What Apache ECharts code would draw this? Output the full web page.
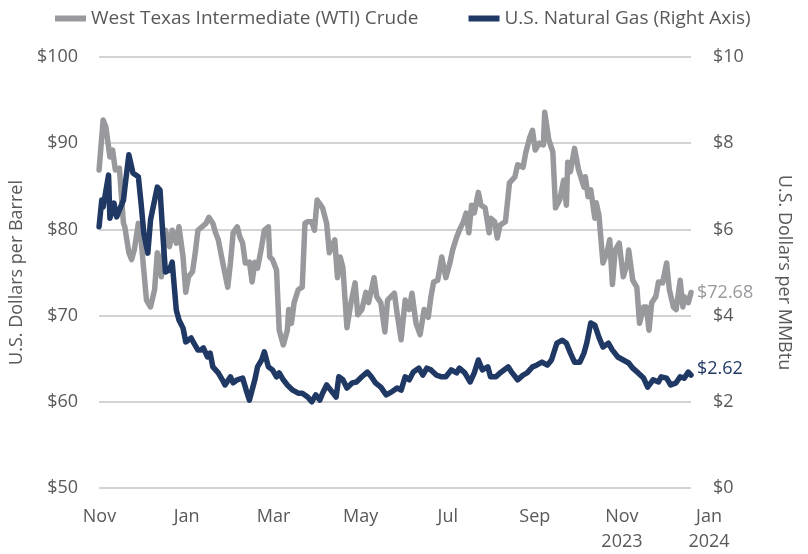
<!DOCTYPE html>
<html>
<head>
<meta charset="utf-8">
<script src="https://cdn.jsdelivr.net/npm/echarts@6/dist/echarts.min.js"></script>
<style>
  html, body { margin: 0; background: #fff; }
  #chart { width: 808px; height: 554px; }
</style>
</head>
<body>
<div id="chart"></div>
<script>
// x values are days counted from 1 Nov 2022
const wtiDays = [0,3,5,8,10,12,15,18,19,22,24,26,29,31,35,38,41,43,46,49,52,54,57,59,62,64,66,69,71,73,76,79,81,84,86,88,92,95,97,99,102,104,106,108,111,113,115,117,120,122,125,126,128,131,133,136,139,140,142,144,147,150,152,154,157,159,161,165,168,170,174,176,178,180,183,186,189,191,194,197,199,203,205,208,211,213,218,220,223,226,229,231,234,237,240,243,245,247,250,253,256,259,261,264,266,269,271,273,275,277,280,282,285,288,289,292,294,296,300,303,307,309,313,315,318,320,322,325,328,329,332,335,337,340,343,345,346,348,351,354,358,359,361,363,366,367,369,372,375,377,379,381,384,387,390,391,394,397,399,402,404,406,408,411,413,416,419,421,424,426,429,431,432,435,437];
const wtiPrice = [86.9,92.7,91.9,88.4,89.2,86.9,87.1,80.7,80.3,77.3,76.5,77.6,80.7,78.8,71.8,71.0,73.0,77.3,74.5,79.9,78.0,79.9,78.4,80.3,76.8,72.7,74.5,75.1,77.3,79.9,80.3,80.7,81.4,80.7,79.6,78.8,75.6,73.3,76.1,79.6,80.3,79.1,78.4,76.1,76.2,73.9,76.2,75.5,78.0,79.9,80.3,76.8,76.5,75.3,68.3,66.6,68.3,70.7,69.1,71.5,73.0,73.3,80.7,80.9,80.9,79.9,83.4,82.5,80.7,77.3,78.8,74.4,76.8,75.6,68.6,71.5,73.8,70.1,70.7,72.7,71.5,74.4,72.2,71.5,68.1,71.8,72.6,70.3,67.2,71.8,70.7,72.6,69.1,67.8,70.7,69.8,72.2,73.9,74.1,76.8,74.4,76.1,77.6,79.1,79.9,80.9,81.9,79.6,82.8,81.9,84.3,82.8,82.5,79.6,81.3,80.9,79.0,80.5,80.9,85.4,86.1,87.5,87.2,88.9,90.7,91.5,89.2,90.0,89.8,93.6,90.4,89.0,82.5,83.4,85.7,82.8,87.8,86.7,89.4,86.9,84.9,86.1,83.8,84.6,81.3,83.1,81.7,76.1,77.3,78.8,73.6,77.6,78.4,74.5,76.1,77.6,74.1,73.3,69.1,71.0,71.0,68.3,71.5,72.2,73.9,73.8,76.1,73.0,71.0,70.7,74.1,71.0,72.2,71.5,72.68];

const gasDays = [0,2,3,7,8,11,13,15,18,20,22,25,29,31,33,36,38,41,43,45,47,49,52,54,57,59,62,64,68,70,73,75,77,80,82,84,88,91,93,97,99,102,106,109,111,115,117,120,122,125,128,131,133,136,139,143,147,150,154,157,160,163,165,168,171,175,177,180,183,187,190,194,198,201,204,208,212,216,220,223,226,229,232,236,239,242,245,249,253,256,260,264,266,270,274,277,280,283,287,289,293,296,302,305,309,313,316,320,323,327,331,334,338,342,345,348,351,355,358,360,363,366,369,372,376,379,383,387,391,394,398,402,405,409,413,415,419,422,426,429,432,435,437];
const gasPrice = [6.06,6.68,6.52,7.26,6.26,6.61,6.29,6.45,6.68,7.22,7.73,7.31,7.22,6.61,5.92,5.45,6.22,6.68,6.98,6.91,5.92,5.01,5.06,5.24,4.13,3.90,3.71,3.39,3.48,3.36,3.20,3.20,3.25,3.04,3.13,2.81,2.67,2.51,2.39,2.58,2.44,2.51,2.55,2.23,2.04,2.51,2.81,2.97,3.16,2.81,2.74,2.58,2.67,2.51,2.39,2.27,2.20,2.20,2.11,2.00,2.16,2.04,2.20,2.39,2.27,2.11,2.58,2.51,2.32,2.44,2.46,2.58,2.69,2.58,2.44,2.34,2.16,2.23,2.32,2.27,2.58,2.51,2.69,2.78,2.62,2.78,2.74,2.62,2.58,2.58,2.74,2.67,2.78,2.67,2.46,2.67,2.97,2.74,2.81,2.58,2.58,2.67,2.81,2.67,2.51,2.62,2.67,2.81,2.85,2.92,2.85,2.97,3.36,3.43,3.36,3.13,2.92,2.92,3.13,3.36,3.83,3.78,3.50,3.27,3.36,3.20,3.04,2.97,2.90,2.78,2.67,2.55,2.34,2.51,2.46,2.58,2.55,2.39,2.44,2.58,2.55,2.69,2.62];

const monthLabels = ['Nov', 'Jan', 'Mar', 'May', 'Jul', 'Sep', 'Nov\n2023', 'Jan\n2024'];
const seriesNames = ['West Texas Intermediate (WTI) Crude', 'U.S. Natural Gas (Right Axis)'];

const GRAY = '#98999d';
const NAVY = '#1f3864';
const TEXT = '#595959';
const FONT = 'Open Sans';

const chart = echarts.init(document.getElementById('chart'), null, { renderer: 'canvas' });

const pairs = (xs, ys) => xs.map((d, i) => [d, ys[i]]);

chart.setOption({
  animation: false,
  backgroundColor: '#fff',
  textStyle: { fontFamily: FONT },
  legend: {
    top: 4,
    left: 50,
    itemGap: 50,
    itemWidth: 31,
    itemHeight: 6,
    icon: 'rect',
    textStyle: { fontSize: 19, color: TEXT, fontFamily: FONT },
    data: seriesNames
  },
  grid: [
    { left: 92, right: 117, top: 57, bottom: 66 },
    // label strip for the month ticks, evenly spaced like the source axis
    { left: 99.5, right: 99, top: 57, bottom: 66 }
  ],
  xAxis: [
    {
      type: 'value', gridIndex: 0, min: 0, max: 437,
      axisLine: { show: false }, axisTick: { show: false },
      axisLabel: { show: false }, splitLine: { show: false }
    },
    {
      type: 'category', gridIndex: 1, data: monthLabels, boundaryGap: false,
      axisLine: { show: false }, axisTick: { show: false }, splitLine: { show: false },
      axisLabel: {
        interval: 0, margin: 19, fontSize: 18, lineHeight: 25,
        color: TEXT, fontFamily: FONT
      }
    }
  ],
  yAxis: [
    {
      type: 'value', gridIndex: 0, min: 50, max: 100, interval: 10,
      name: 'U.S. Dollars per Barrel', nameLocation: 'middle', nameGap: 60, nameRotate: 90,
      nameTextStyle: { fontSize: 18, color: TEXT, fontFamily: FONT },
      axisLine: { show: false }, axisTick: { show: false },
      axisLabel: { formatter: v => '$' + v, fontSize: 18, color: TEXT, margin: 21, fontFamily: FONT },
      splitLine: { lineStyle: { color: '#c4c4c4', width: 1.5 } }
    },
    {
      type: 'value', gridIndex: 0, min: 0, max: 10, interval: 2, position: 'right',
      name: 'U.S. Dollars per MMBtu', nameLocation: 'middle', nameGap: 84, nameRotate: -90,
      nameTextStyle: { fontSize: 18, color: TEXT, fontFamily: FONT },
      axisLine: { show: false }, axisTick: { show: false },
      axisLabel: { formatter: v => '$' + v, fontSize: 18, color: TEXT, margin: 22, fontFamily: FONT },
      splitLine: { show: false }
    },
    { type: 'value', gridIndex: 1, show: false }
  ],
  series: [
    {
      name: seriesNames[0], type: 'line', xAxisIndex: 0, yAxisIndex: 0,
      data: pairs(wtiDays, wtiPrice),
      showSymbol: false, color: GRAY,
      lineStyle: { color: GRAY, width: 5.5, join: 'round', cap: 'round' },
      endLabel: {
        show: true, distance: 6, color: GRAY, fontSize: 18, fontFamily: FONT,
        formatter: p => '$' + p.value[1].toFixed(2)
      }
    },
    {
      name: seriesNames[1], type: 'line', xAxisIndex: 0, yAxisIndex: 1,
      data: pairs(gasDays, gasPrice),
      showSymbol: false, color: NAVY,
      lineStyle: { color: NAVY, width: 5.5, join: 'round', cap: 'round' },
      endLabel: {
        show: true, distance: 6, offset: [0, -6], color: NAVY, fontSize: 18, fontFamily: FONT,
        formatter: p => '$' + p.value[1].toFixed(2)
      }
    }
  ]
});
</script>
</body>
</html>
